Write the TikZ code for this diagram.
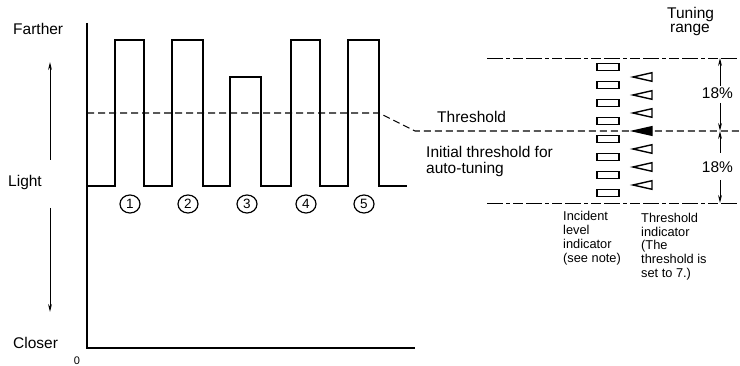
\documentclass[tikz,border=0pt]{standalone}
\usepackage{fontspec}
\setmainfont{Liberation Sans}
\usetikzlibrary{arrows.meta,shapes.geometric}
\begin{document}
\begin{tikzpicture}[x=1pt,y=-1pt,
  lbl/.style={font=\fontsize{15.5}{17}\selectfont, inner sep=0pt, anchor=base west},
  small/.style={font=\fontsize{12.8}{13.7}\selectfont, inner sep=0pt, align=left, anchor=north west},
  wave/.style={line width=2.6pt, line join=miter},
  axis/.style={line width=1.5pt},
  tharrow/.style={line width=1pt, -{Stealth[length=8pt,width=3.8pt]}},
  thr/.style={line width=1.1pt, dash pattern=on 7pt off 4pt},
  rangeline/.style={line width=0.9pt, dash pattern=on 16pt off 3pt on 4pt off 3pt on 10pt off 3pt},
  cnum/.style={ellipse, draw, line width=1.2pt, minimum width=20pt, minimum height=18pt, inner sep=0pt, font=\fontsize{13.5}{13.5}\selectfont},
  lvl/.style={draw, line width=1.4pt, minimum width=22pt, minimum height=7pt, inner sep=0pt},
  trist/.style={line width=1.4pt, line join=miter}
]
\useasboundingbox (0,0) rectangle (740,366);

% axes
\coordinate (origin) at (87,348);
\coordinate (ytop) at (87,23);
\coordinate (xend) at (415,348);
\draw[axis] (ytop) -- (origin) -- (xend);

% left labels
\node[lbl] (farther) at (13,35) {Farther};
\node[lbl] (light) at (8,187) {Light};
\node[lbl] (closer) at (13,349) {Closer};
\node[font=\fontsize{11}{11}\selectfont, inner sep=0pt, anchor=base] (zero) at (77,364.5) {0};

\coordinate (upS) at (50,160);
\coordinate (upE) at (50,62);
\coordinate (dnS) at (50,208);
\coordinate (dnE) at (50,312);
\draw[tharrow] (upS) -- (upE);
\draw[tharrow] (dnS) -- (dnE);

% waveform
\draw[wave] (87,186) -- (115,186) -- (115,40) -- (144,40) -- (144,186)
  -- (172,186) -- (172,40) -- (203,40) -- (203,186)
  -- (230,186) -- (230,77) -- (261,77) -- (261,186)
  -- (291,186) -- (291,40) -- (320,40) -- (320,186)
  -- (348,186) -- (348,40) -- (379,40) -- (379,186) -- (407,186);

% circled numbers
\foreach \i/\x in {1/130,2/188,3/247,4/306,5/364}
  \node[cnum] (c\i) at (\x,204) {\i};

% threshold line
\coordinate (thA) at (87,113);
\coordinate (thB) at (379,113);
\coordinate (thC) at (415,131);
\coordinate (thD) at (740,131);
\draw[thr] (thA) -- (thB) -- (thC) -- (thD);

% tuning range lines
\coordinate (topA) at (487,58);
\coordinate (topB) at (740,58);
\coordinate (botA) at (487,203);
\coordinate (botB) at (740,203);
\draw[rangeline] (topA) -- (topB);
\draw[rangeline] (botA) -- (botB);

% labels middle
\node[lbl] (threshold) at (437,123) {Threshold};
\node[lbl] (init1) at (426,158) {Initial threshold for};
\node[lbl] (init2) at (426,173.5) {auto-tuning};

% tuning range label
\node[lbl] (tun1) at (667,18.5) {Tuning};
\node[lbl] (tun2) at (670,33) {range};

% level indicator rectangles
\foreach \k in {0,...,7}
  \node[lvl] (r\k) at (608,67+18*\k) {};

% threshold indicator triangles
\foreach \k in {0,1,2,4,5,6}
  \draw[trist] (652,77+18*\k-4.3) -- (633,77+18*\k) -- (652,77+18*\k+4.3) -- cycle;
\draw[trist, fill=black] (652,131-4.3) -- (633,131) -- (652,131+4.3) -- cycle;

% dimension arrows
\node[font=\fontsize{15.5}{17}\selectfont, inner sep=0pt, anchor=base] (p1) at (717.5,99) {18\%};
\node[font=\fontsize{15.5}{17}\selectfont, inner sep=0pt, anchor=base] (p2) at (717.5,173) {18\%};
\coordinate (d1) at (720,58);
\coordinate (d2a) at (720,86);
\coordinate (d2b) at (720,103);
\coordinate (d3) at (720,131);
\coordinate (d4a) at (720,153);
\coordinate (d4b) at (720,180);
\coordinate (d5) at (720,203);
\draw[tharrow] (d2a) -- (d1);
\draw[tharrow] (d2b) -- (d3);
\draw[tharrow] (d4a) -- (d3);
\draw[tharrow] (d4b) -- (d5);

% bottom notes
\node[small] (inc) at (563,211.5) {Incident\\level\\indicator\\(see note)};
\node[small] (thi) at (641,213) {Threshold\\indicator\\(The\\threshold is\\set to 7.)};
\end{tikzpicture}
\end{document}
